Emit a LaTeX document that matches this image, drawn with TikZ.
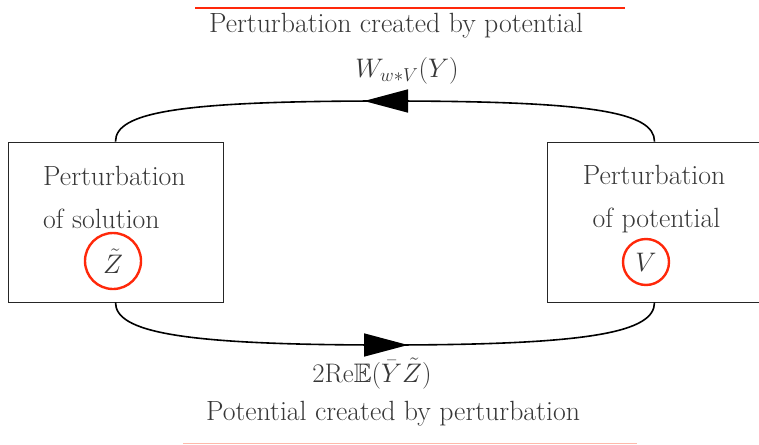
\RequirePackage{fix-cm}
\documentclass[tikz,border=0pt]{standalone}
\usepackage{amssymb}
\usetikzlibrary{arrows.meta}
\definecolor{redl}{RGB}{255,40,10}
\definecolor{redpale}{RGB}{255,185,170}
\definecolor{txt}{RGB}{55,55,55}
\begin{document}
\begin{tikzpicture}[x=1pt,y=-1pt,
  box/.style={draw=black!85, line width=0.8pt, minimum width=215pt, minimum height=160pt, inner sep=0pt},
  lbl/.style={text=txt, font=\fontsize{27.8}{33}\selectfont, inner sep=0pt},
  mlbl/.style={text=txt, font=\fontsize{26.8}{32}\selectfont, inner sep=0pt},
  ring/.style={draw=redl, line width=2.4pt, circle, inner sep=0pt, text=txt, font=\fontsize{26.8}{32}\selectfont},
  conn/.style={line width=1.6pt},
  tipline/.style={-{Triangle[length=44pt,width=23pt]}, line width=1.6pt},
  rline/.style={draw=redl, line width=2.6pt}]
\useasboundingbox (0,0) rectangle (759,444);

% boxes
\node[box] (L) at (115.5,222) {};
\node[box] (R) at (654.5,222) {};

% box texts
\node[lbl, anchor=base west] (l1) at (43,185) {Perturbation};
\node[lbl, anchor=base west] (l2) at (43,228) {of solution};
\node[ring, minimum size=56pt] (Z) at (113,261) {$\tilde{Z}$};
\node[lbl, anchor=base] (r1) at (654,184) {Perturbation};
\node[lbl, anchor=base] (r2) at (656.5,227) {of potential};
\node[ring, minimum size=46pt] (V) at (646,262) {$V$};

% top connector
\coordinate (tm) at (386,101);
\draw[conn] (R.north) .. controls (654.5,112) and (592,101) .. (tm)
  .. controls (180,101) and (115.5,112) .. (L.north);
\draw[tipline] ([xshift=22pt]tm) -- ([xshift=-22pt]tm);

% bottom connector
\coordinate (bm) at (386,345);
\draw[conn] (L.south) .. controls (115.5,332) and (180,345) .. (bm)
  .. controls (592,345) and (654.5,332) .. (R.south);
\draw[tipline] ([xshift=-22pt]bm) -- ([xshift=22pt]bm);

% labels
\node[mlbl, anchor=base] (wl) at (407,77) {$W_{w*V}(Y)$};
\node[mlbl, anchor=base] (bl) at (372,382) {$2\mathrm{Re}\mathbb{E}(\bar{Y}\tilde{Z})$};
\node[lbl, anchor=base] (tt) at (396,33) {Perturbation created by potential};
\node[lbl, anchor=base] (bt) at (393,420) {Potential created by perturbation};

% red lines
\coordinate (ta) at (195,8);
\coordinate (tb) at (625,8);
\draw[rline] (ta) -- (tb);
\coordinate (ba) at (183,443.5);
\coordinate (bb) at (637,443.5);
\draw[draw=redpale, line width=1pt] (ba) -- (bb);
\end{tikzpicture}
\end{document}
